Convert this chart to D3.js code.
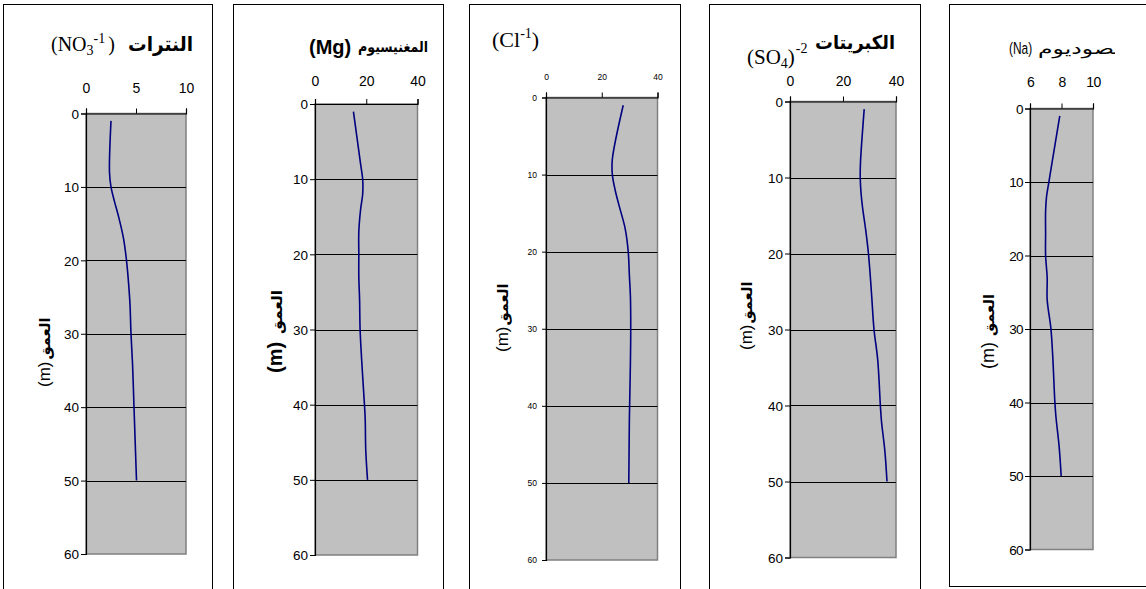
<!DOCTYPE html>
<html>
<head>
<meta charset="utf-8">
<script src="https://cdn.jsdelivr.net/npm/d3@7"></script>
<style>
  body { margin: 0; background: #fff; }
  svg { display: block; }
</style>
</head>
<body>
<svg id="chart" width="1146" height="589"></svg>
<script>
// Sampling depths (m) shared by every profile
const depths = [1, 8, 10, 12, 14, 17, 20, 23, 26, 30, 34, 40, 42, 46, 50];

// Concentration profiles along the depth
const nitrate   = [2.5, 2.35, 2.5, 2.85, 3.25, 3.75, 4.05, 4.25, 4.4, 4.5, 4.65, 4.8, 4.85, 4.95, 5.05];
const magnesium = [15, 17.8, 18.6, 18.6, 17.8, 17.1, 17.1, 17.1, 17.4, 17.6, 18.2, 19.3, 19.6, 19.8, 20.5];
const chloride  = [27.7, 23.8, 23.8, 24.8, 26.2, 28.4, 29.5, 29.9, 30.3, 30.4, 30.3, 30.0, 29.9, 29.8, 29.7];
const sulfate   = [28, 26.6, 26.5, 26.8, 27.4, 28.6, 29.6, 30.3, 30.9, 31.7, 33.1, 34.1, 34.5, 35.8, 36.6];
const sodium    = [7.89, 7.35, 7.2, 7.05, 6.99, 6.99, 6.99, 7.09, 7.09, 7.33, 7.45, 7.58, 7.65, 7.85, 7.98];

// Axis ticks
const depthTicks   = [0, 10, 20, 30, 40, 50, 60];
const nitrateTicks = [0, 5, 10];
const ionTicks     = [0, 20, 40];
const sodiumTicks  = [6, 8, 10];

const svg = d3.select("#chart");
const SANS = "'Liberation Sans', Arial, sans-serif";
const SERIF = "'Liberation Serif', 'Times New Roman', serif";
const ARABIC = "'DejaVu Sans', sans-serif";

const panels = [
  { values: nitrate, domain: [0, 10], ticks: nitrateTicks,
    frame: [3.5, 212.5, 4.5, 600], plot: [86, 186, 113.5, 554],
    topBase: 93, topFont: 14, tickFont: 13.5, yTick: 5, yPad: 2 },
  { values: magnesium, domain: [0, 40], ticks: ionTicks,
    frame: [233.5, 443.5, 4.5, 600], plot: [315, 417.5, 104, 555],
    topBase: 86, topFont: 14, tickFont: 13.5, yTick: 5, yPad: 2 },
  { values: chloride, domain: [0, 40], ticks: ionTicks,
    frame: [469.5, 680.5, 4.5, 600], plot: [546, 657.5, 97.5, 560],
    topBase: 80, topFont: 8.5, tickFont: 8.5, yTick: 4, yPad: 5 },
  { values: sulfate, domain: [0, 40], ticks: ionTicks,
    frame: [709.5, 920.5, 4.5, 600], plot: [790, 896, 101.5, 557.5],
    topBase: 86, topFont: 14, tickFont: 13.5, yTick: 5, yPad: 2 },
  { values: sodium, domain: [6, 10], ticks: sodiumTicks,
    frame: [949.5, 1170, 4.5, 586.5], plot: [1030, 1093, 108.5, 549.5],
    topBase: 87, topFont: 14, tickFont: 13.5, yTick: 5, yPad: 2, narrow: true }
];

panels.forEach(p => {
  const [fx0, fx1, fy0, fy1] = p.frame;
  const [l, r, t, b] = p.plot;
  const g = svg.append("g");

  // chart frame
  g.append("rect").attr("x", fx0).attr("y", fy0)
    .attr("width", fx1 - fx0).attr("height", fy1 - fy0)
    .attr("fill", "#fff").attr("stroke", "#000").attr("stroke-width", 1);

  const x = d3.scaleLinear().domain(p.domain).range([l, r]);
  const y = d3.scaleLinear().domain([0, 60]).range([t, b]);

  // plot area
  g.append("rect").attr("x", l).attr("y", t)
    .attr("width", r - l).attr("height", b - t)
    .attr("fill", "#c0c0c0").attr("stroke", "#808080").attr("stroke-width", 1.5);

  // horizontal gridlines
  g.selectAll(".grid").data(depthTicks.filter(d => d > 0 && d < 60)).join("line")
    .attr("x1", l).attr("x2", r)
    .attr("y1", d => Math.round(y(d)) + 0.5).attr("y2", d => Math.round(y(d)) + 0.5)
    .attr("stroke", "#000").attr("stroke-width", 1);

  // depth axis
  const ya = g.append("g").attr("transform", `translate(${l},0)`)
    .call(d3.axisLeft(y).tickValues(depthTicks).tickFormat(d3.format("d"))
      .tickSize(p.yTick).tickPadding(p.yPad));
  // concentration axis on top
  const xa = g.append("g").attr("transform", `translate(0,${t})`)
    .call(d3.axisTop(x).tickValues(p.ticks).tickFormat(d3.format("d"))
      .tickSize(5).tickPadding(t - p.topBase - 5));

  [ya, xa].forEach(a => {
    a.select(".domain").attr("stroke", "#000").attr("stroke-width", 1.2);
    a.selectAll(".tick line").attr("stroke", "#000");
    a.selectAll("text").attr("fill", "#000")
      .style("font-family", SANS)
      .style("letter-spacing", p.narrow ? "-0.6px" : null);
  });
  ya.selectAll("text").attr("dy", "0.35em").style("font-size", p.tickFont + "px");
  xa.selectAll("text").attr("dy", "0").style("font-size", p.topFont + "px");

  // profile line
  const pts = depths.map((d, k) => ({ d, v: p.values[k] }));
  g.append("path").datum(pts)
    .attr("fill", "none").attr("stroke", "#000080").attr("stroke-width", 1.6)
    .attr("d", d3.line().x(d => x(d.v)).y(d => y(d.d)).curve(d3.curveCatmullRom.alpha(0.5)));
});

// ---- titles ----
function latin(x, yb, size, family, weight) {
  return svg.append("text").attr("x", x).attr("y", yb)
    .style("font-family", family).style("font-size", size + "px")
    .style("font-weight", weight || "normal").attr("fill", "#000");
}
function arabic(x, yb, size, weight, str, len, anchor) {
  const tx = svg.append("text").attr("x", x).attr("y", yb)
    .attr("text-anchor", anchor || "end")
    .style("font-family", ARABIC).style("font-size", size + "px")
    .style("font-weight", weight).attr("fill", "#000").text(str);
  if (len) tx.attr("textLength", len).attr("lengthAdjust", "spacingAndGlyphs");
  return tx;
}

// Nitrate
{
  const tx = latin(51, 51, 20, SERIF);
  tx.append("tspan").text("(NO");
  tx.append("tspan").attr("dy", 4).style("font-size", "14px").text("3");
  tx.append("tspan").attr("dy", -12).style("font-size", "14px").text("-1");
  tx.append("tspan").attr("dy", 8).attr("dx", 3).text(")");
  arabic(193, 51, 20, "bold", "النترات", 65);
}
// Magnesium
latin(309, 54, 20, SANS, "bold").text("(Mg)");
arabic(428, 52, 15, "bold", "المغنيسيوم", 70);
// Chloride
{
  const tx = latin(492, 47, 22, SERIF);
  tx.append("tspan").text("(Cl");
  tx.append("tspan").attr("dy", -9).style("font-size", "14px").text("-1");
  tx.append("tspan").attr("dy", 9).text(")");
}
// Sulfate
{
  const tx = latin(747, 64, 21, SERIF);
  tx.append("tspan").text("(SO");
  tx.append("tspan").attr("dy", 4).style("font-size", "14px").text("4");
  tx.append("tspan").attr("dy", -4).text(")");
  tx.append("tspan").attr("dy", -11).attr("dx", 1).style("font-size", "14px").text("-2");
  arabic(895, 49, 19, "bold", "الكبريتات", 80);
}
// Sodium (condensed symbol, name clipped by the chart area)
svg.append("clipPath").attr("id", "naClip").append("rect")
  .attr("x", 940).attr("y", 0).attr("width", 175).attr("height", 100);
svg.append("g").attr("transform", "translate(1009,54) scale(0.7,1)")
  .append("text").attr("x", 0).attr("y", 0)
  .style("font-family", SANS).style("font-size", "17px").attr("fill", "#000")
  .text("(Na)");
arabic(1038, 54, 16, "normal", "الصوديوم", 90, "start")
  .attr("clip-path", "url(#naClip)");

// ---- depth axis titles (rotated) ----
function depthTitle(bx, by, mSize, mWeight, gap, arSize, arLen) {
  const g = svg.append("g").attr("transform", `translate(${bx},${by}) rotate(-90)`);
  const m = g.append("text").attr("x", 0).attr("y", 0)
    .style("font-family", SANS).style("font-size", mSize + "px")
    .style("font-weight", mWeight).attr("fill", "#000").text("(m)");
  const w = m.node().getComputedTextLength();
  g.append("text").attr("x", w + gap).attr("y", 0)
    .attr("textLength", arLen).attr("lengthAdjust", "spacingAndGlyphs")
    .style("font-family", ARABIC).style("font-size", arSize + "px")
    .style("font-weight", "bold").attr("fill", "#000").text("العمق");
}
depthTitle(50, 387, 17, "normal", 2, 15, 42);
depthTitle(282, 373, 20, "bold", 8, 15, 44);
depthTitle(508, 352, 17, "normal", 1, 14, 42);
depthTitle(752, 350, 17, "normal", 1, 14, 42);
depthTitle(994, 369, 18, "normal", 6, 14, 42);
</script>
</body>
</html>
